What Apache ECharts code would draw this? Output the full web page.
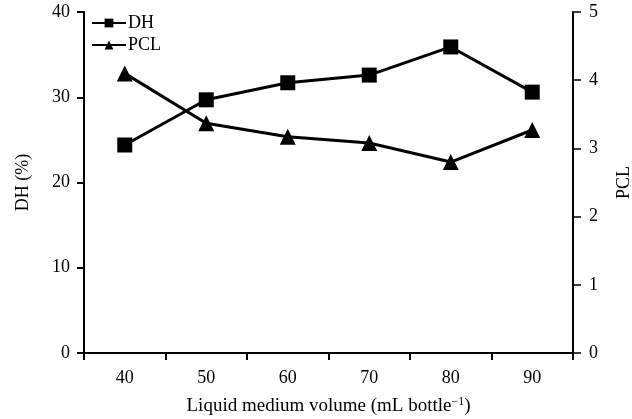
<!DOCTYPE html>
<html>
<head>
<meta charset="utf-8">
<script src="https://cdn.jsdelivr.net/npm/echarts@6/dist/echarts.min.js"></script>
<style>
  html, body { margin: 0; padding: 0; background: #fff; }
  #main { width: 632px; height: 419px; }
</style>
</head>
<body>
<div id="main"></div>
<script>
  var volumes = ['40', '50', '60', '70', '80', '90'];
  var dhValues = [24.4, 29.7, 31.7, 32.6, 35.9, 30.6];
  var pclValues = [4.1, 3.37, 3.17, 3.08, 2.8, 3.27];
  var dhTicks = [0, 40, 10];
  var pclTicks = [0, 5, 1];

  var font = 'Liberation Serif';
  var myChart = echarts.init(document.getElementById('main'));

  myChart.setOption({
    backgroundColor: '#fff',
    animation: false,
    textStyle: { fontFamily: font, color: '#000' },
    grid: { left: 84, right: 59, top: 12, bottom: 66, containLabel: false, outerBoundsMode: 'none' },
    legend: {
      orient: 'vertical',
      left: 86,
      top: 9,
      itemWidth: 34,
      itemHeight: 11,
      itemGap: 4,
      textStyle: { fontFamily: font, fontSize: 18, color: '#000', padding: [0, 0, 0, -3] },
      data: ['DH', 'PCL']
    },
    xAxis: {
      type: 'category',
      data: volumes,
      boundaryGap: true,
      name: 'Liquid medium volume (mL bottle{sup|\u22121})',
      nameLocation: 'middle',
      nameGap: 43,
      nameTextStyle: {
        fontFamily: font, fontSize: 19, color: '#000',
        rich: {
          sup: { fontFamily: font, fontSize: 12, color: '#000', verticalAlign: 'top', padding: [0, 0, 9, 0] }
        }
      },
      axisLine: { lineStyle: { color: '#000', width: 2 } },
      axisTick: { show: true, inside: false, length: 7, alignWithLabel: false, lineStyle: { color: '#000', width: 2 } },
      axisLabel: { fontFamily: font, fontSize: 18, color: '#000', margin: 16 }
    },
    yAxis: [{
      type: 'value',
      min: dhTicks[0],
      max: dhTicks[1],
      interval: dhTicks[2],
      name: 'DH (%)',
      nameLocation: 'middle',
      nameGap: 52,
      nameTextStyle: { fontFamily: font, fontSize: 18, color: '#000' },
      axisLine: { show: true, lineStyle: { color: '#000', width: 2 } },
      axisTick: { show: true, length: 7, lineStyle: { color: '#000', width: 2 } },
      axisLabel: { fontFamily: font, fontSize: 18, color: '#000', margin: 14 },
      splitLine: { show: false }
    }, {
      type: 'value',
      position: 'right',
      min: pclTicks[0],
      max: pclTicks[1],
      interval: pclTicks[2],
      name: 'PCL',
      nameLocation: 'middle',
      nameGap: 42,
      nameRotate: 90,
      nameTextStyle: { fontFamily: font, fontSize: 18, color: '#000' },
      axisLine: { show: true, lineStyle: { color: '#000', width: 2 } },
      axisTick: { show: true, length: 8, lineStyle: { color: '#000', width: 1.5 } },
      axisLabel: { fontFamily: font, fontSize: 18, color: '#000', margin: 16 },
      splitLine: { show: false }
    }],
    series: [{
      name: 'DH',
      type: 'line',
      yAxisIndex: 0,
      data: dhValues,
      symbol: 'rect',
      symbolSize: 15,
      itemStyle: { color: '#000' },
      lineStyle: { color: '#000', width: 3 }
    }, {
      name: 'PCL',
      type: 'line',
      yAxisIndex: 1,
      data: pclValues,
      symbol: 'triangle',
      symbolSize: 16,
      itemStyle: { color: '#000' },
      lineStyle: { color: '#000', width: 3 }
    }]
  });
</script>
</body>
</html>
